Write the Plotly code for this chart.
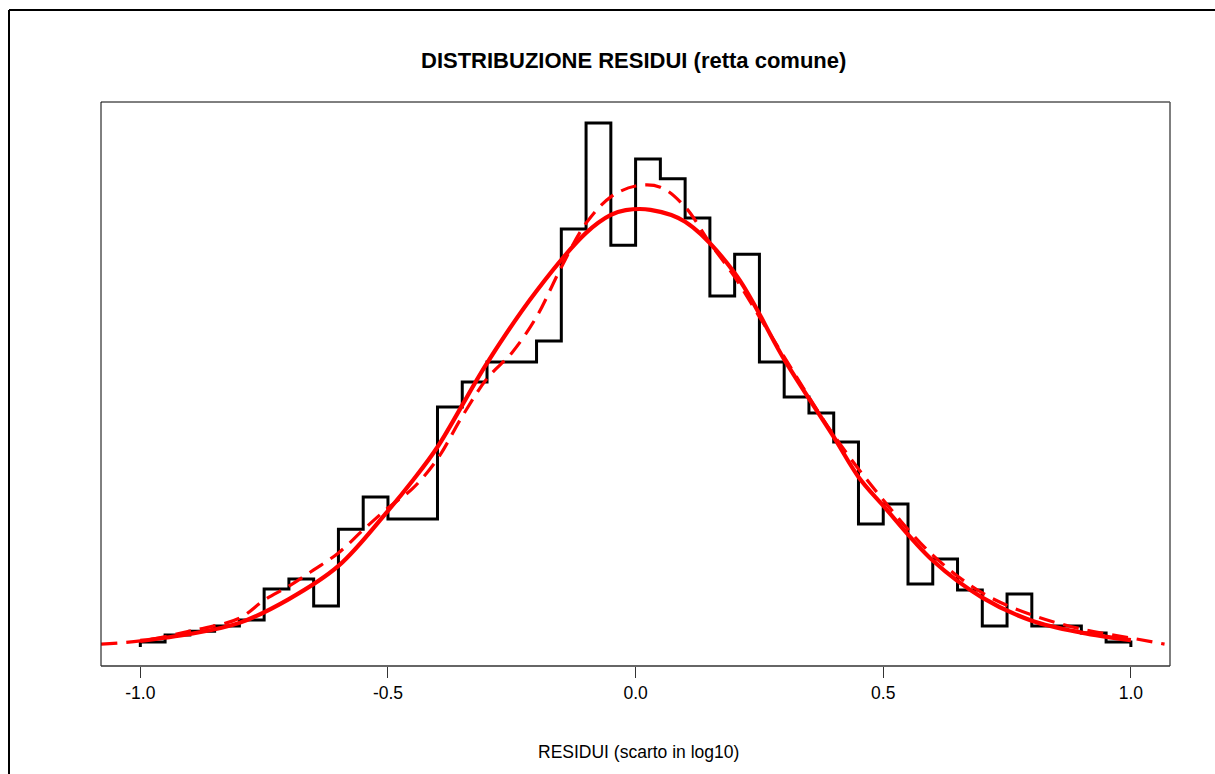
import plotly.graph_objects as go

# ---- data ----
bin_left = [-1.00, -0.95, -0.90, -0.85, -0.80, -0.75, -0.70, -0.65, -0.60, -0.55,
            -0.50, -0.45, -0.40, -0.35, -0.30, -0.25, -0.20, -0.15, -0.10, -0.05,
            0.00, 0.05, 0.10, 0.15, 0.20, 0.25, 0.30, 0.35, 0.40, 0.45,
            0.50, 0.55, 0.60, 0.65, 0.70, 0.75, 0.80, 0.85, 0.90, 0.95]
bin_right_end = 1.00
hist_density = [0.014, 0.033, 0.044, 0.058, 0.075, 0.161, 0.189, 0.114, 0.327, 0.416,
                0.355, 0.355, 0.666, 0.735, 0.791, 0.791, 0.849, 1.160, 1.454, 1.115,
                1.354, 1.299, 1.190, 0.974, 1.090, 0.791, 0.694, 0.649, 0.569, 0.341,
                0.397, 0.175, 0.244, 0.158, 0.058, 0.147, 0.058, 0.058, 0.039, 0.014]

solid_x = [-1.0, -0.9, -0.8, -0.7, -0.6, -0.5, -0.45, -0.4, -0.3, -0.2, -0.1, -0.05,
           -0.02, 0.03, 0.1, 0.2, 0.3, 0.4, 0.45, 0.5, 0.6, 0.7, 0.8, 0.9, 1.0]
solid_y = [0.017, 0.036, 0.067, 0.133, 0.225, 0.378, 0.462, 0.555, 0.788, 0.988, 1.149, 1.199,
           1.212, 1.213, 1.180, 1.038, 0.798, 0.583, 0.472, 0.392, 0.240, 0.137, 0.073, 0.040, 0.019]

dash_x = [-1.079, -1.0, -0.9, -0.8, -0.75, -0.7, -0.65, -0.6, -0.55, -0.5, -0.45, -0.4,
          -0.35, -0.3, -0.25, -0.2, -0.15, -0.1, -0.05, 0.0, 0.05, 0.1, 0.15, 0.2,
          0.25, 0.3, 0.4, 0.5, 0.6, 0.7, 0.8, 0.9, 1.0, 1.068]
dash_y = [0.008, 0.017, 0.044, 0.080, 0.130, 0.169, 0.214, 0.261, 0.325, 0.386, 0.440, 0.522,
          0.640, 0.745, 0.816, 0.916, 1.054, 1.176, 1.249, 1.279, 1.276, 1.221, 1.121, 1.027,
          0.916, 0.805, 0.588, 0.408, 0.255, 0.150, 0.089, 0.050, 0.025, 0.008]

tick_vals = [-1.0, -0.5, 0.0, 0.5, 1.0]
tick_text = ["-1.0", "-0.5", "0.0", "0.5", "1.0"]

title_text = "DISTRIBUZIONE RESIDUI (retta comune)"
xlabel_text = "RESIDUI (scarto in log10)"

# ---- build step outline of histogram ----
step_x = [bin_left[0]] + bin_left + [bin_right_end]
step_y = [0.0] + hist_density + [0.0]

FONT = "Arial, Liberation Sans, sans-serif"

fig = go.Figure()
fig.add_trace(go.Scatter(x=step_x, y=step_y, mode="lines", line_shape="hv",
                         line=dict(color="black", width=3), showlegend=False,
                         hoverinfo="skip"))
fig.add_trace(go.Scatter(x=dash_x, y=dash_y, mode="lines", line_shape="spline",
                         line=dict(color="#ff0000", width=3.2, dash="16px,9px"),
                         showlegend=False))
fig.add_trace(go.Scatter(x=solid_x, y=solid_y, mode="lines", line_shape="spline",
                         line=dict(color="#ff0000", width=4.2), showlegend=False))

W, H = 1215, 774
L, R, T, B = 101, 45, 102, 108
pw, ph = W - L - R, H - T - B

def px_x(px):
    return (px - L) / pw

def px_y(py):
    return (H - B - py) / ph

fig.update_layout(
    width=W, height=H,
    margin=dict(l=L, r=R, t=T, b=B, pad=0),
    paper_bgcolor="white", plot_bgcolor="white",
    font=dict(family=FONT, color="black", size=17.5),
    xaxis=dict(range=[-1.0794, 1.079], tickvals=tick_vals, ticktext=tick_text,
               ticks="outside", ticklen=11, tickwidth=1, tickcolor="#333",
               showgrid=False, zeroline=False, showline=False,
               tickfont=dict(family=FONT, size=17.5, color="black")),
    yaxis=dict(range=[-0.0527, 1.5122], showticklabels=False, ticks="",
               showgrid=False, zeroline=False, showline=False),
    annotations=[
        dict(text="<b>" + title_text + "</b>", xref="paper", yref="paper",
             x=px_x(633), y=px_y(60.5), xanchor="center", yanchor="middle",
             showarrow=False, font=dict(family=FONT, size=22, color="black")),
        dict(text=xlabel_text, xref="paper", yref="paper",
             x=px_x(638), y=px_y(752), xanchor="center", yanchor="middle",
             showarrow=False, font=dict(family=FONT, size=17.5, color="black")),
    ],
    shapes=[
        # plot frame: top/left black, right/bottom gray
        dict(type="line", xref="paper", yref="paper", x0=0, x1=1, y0=1, y1=1,
             line=dict(color="black", width=1)),
        dict(type="line", xref="paper", yref="paper", x0=0, x1=0, y0=0, y1=1,
             line=dict(color="black", width=1)),
        dict(type="line", xref="paper", yref="paper", x0=1, x1=1, y0=0, y1=1,
             line=dict(color="#555", width=1.5)),
        dict(type="line", xref="paper", yref="paper", x0=0, x1=1, y0=0, y1=0,
             line=dict(color="#333", width=1.5)),
        # outer figure border (top and left edges only are visible)
        dict(type="line", xref="paper", yref="paper",
             x0=px_x(9), x1=px_x(1215), y0=px_y(10), y1=px_y(10),
             line=dict(color="black", width=2)),
        dict(type="line", xref="paper", yref="paper",
             x0=px_x(9), x1=px_x(9), y0=px_y(10), y1=px_y(774),
             line=dict(color="black", width=2)),
    ],
)

fig.write_html("out.html")
